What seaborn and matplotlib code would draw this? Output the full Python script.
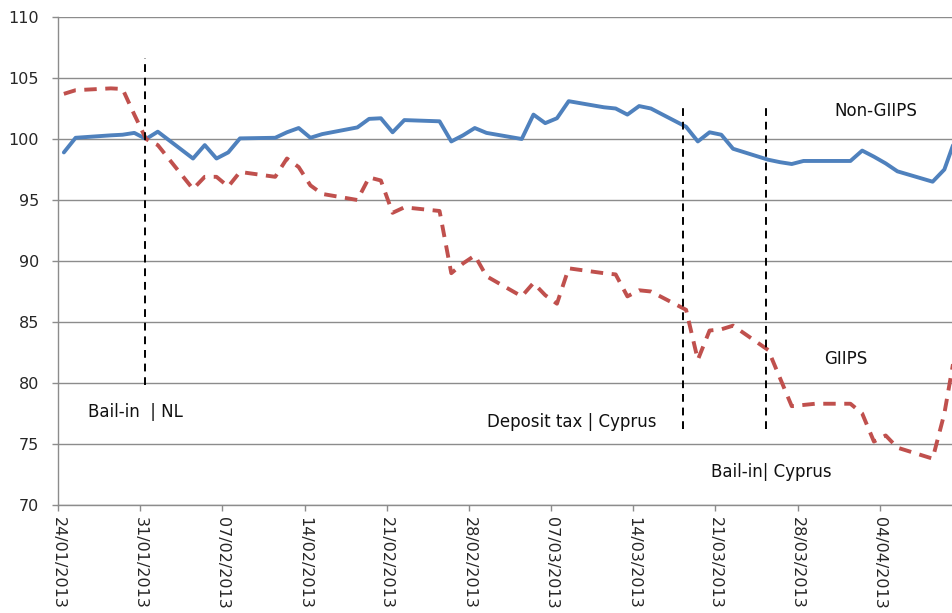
import numpy as np
import pandas as pd
import matplotlib
matplotlib.use("Agg")
import matplotlib.pyplot as plt
import matplotlib.dates as mdates
import seaborn as sns

# weekday trading dates
dates = pd.bdate_range("2013-01-24", "2013-04-10")

non_giips = [
    98.9, 100.1,
    100.3, 100.35, 100.5, 100.0, 100.6,
    98.4, 99.5, 98.4, 98.9, 100.05,
    100.1, 100.55, 100.9, 100.1, 100.4,
    100.95, 101.65, 101.7, 100.55, 101.55,
    101.45, 99.8, 100.3, 100.9, 100.5,
    100.0, 102.0, 101.3, 101.7, 103.1,
    102.6, 102.5, 102.0, 102.7, 102.5,
    101.0, 99.8, 100.55, 100.35, 99.2,
    98.3, 98.1, 97.95, 98.2, 98.2,
    98.2, 99.05, 98.55, 98.0, 97.35,
    96.5, 97.5, 100.2,
]

giips = [
    103.7, 104.0,
    104.15, 104.1, 102.0, 100.0, 99.5,
    95.9, 96.9, 96.9, 96.1, 97.3,
    96.9, 98.4, 97.7, 96.2, 95.5,
    95.0, 96.85, 96.6, 93.95, 94.4,
    94.1, 89.0, 89.8, 90.45, 88.75,
    87.1, 88.2, 87.2, 86.5, 89.4,
    89.0, 88.9, 87.1, 87.6, 87.5,
    86.0, 81.9, 84.3, 84.4, 84.7,
    82.7, 80.4, 78.1, 78.2, 78.3,
    78.3, 77.5, 75.2, 75.7, 74.7,
    73.8, 77.5, 83.0,
]

event_dates = ["2013-01-31 10:00", "2013-03-18 05:00", "2013-03-25 07:00"]
event_spans = [(79.8, 106.6), (76.2, 102.9), (76.2, 102.9)]

labels = ["Non-GIIPS", "GIIPS", "Bail-in  | NL", "Deposit tax | Cyprus", "Bail-in| Cyprus"]
label_pos = [("2013-03-31 04:00", 102.33), ("2013-03-30 06:00", 81.99),
             ("2013-01-26 13:30", 77.64), ("2013-03-01 13:00", 76.8),
             ("2013-03-20 15:00", 72.69)]

df = pd.DataFrame({
    "date": list(dates + pd.Timedelta(hours=12)) * 2,
    "value": non_giips + giips,
    "series": ["Non-GIIPS"] * len(dates) + ["GIIPS"] * len(dates),
})

sns.set_style("white")
plt.rcParams["font.family"] = ["DejaVu Sans"]

fig = plt.figure(figsize=(9.52, 6.13), dpi=100)
ax = fig.add_axes([58 / 952, 1 - 505 / 613, 1 - 58 / 952, (505 - 17) / 613])

sns.lineplot(data=df, x="date", y="value", hue="series", style="series",
             palette={"Non-GIIPS": "#4F81BD", "GIIPS": "#C0504D"},
             dashes={"Non-GIIPS": "", "GIIPS": (3.2, 2.2)},
             linewidth=2.8, legend=False, ax=ax, zorder=3)

for d, (lo, hi) in zip(event_dates, event_spans):
    ax.vlines(pd.Timestamp(d), lo, hi, colors="black", linestyles=(0, (4, 3)),
              linewidth=1.4, zorder=4)

for t, (d, v) in zip(labels, label_pos):
    ax.text(pd.Timestamp(d), v, t, fontsize=12, ha="left", va="center", color="#111111")

start = pd.Timestamp("2013-01-24")
ax.set_xlim(start, start + pd.Timedelta(days=76.15))
ax.set_ylim(70, 110)
ax.set_yticks(np.arange(70, 111, 5))
ax.set_xticks(pd.date_range(start, periods=11, freq="7D"))
ax.xaxis.set_major_formatter(mdates.DateFormatter("%d/%m/%Y"))
plt.setp(ax.get_xticklabels(), rotation=270, ha="center", va="top")
ax.tick_params(axis="x", length=4.5, width=1, color="#8c8c8c", labelsize=11.5, pad=4,
               direction="out", bottom=True)
ax.tick_params(axis="y", length=4.5, width=1, color="#8c8c8c", labelsize=11.5, pad=9,
               direction="out", left=True)
ax.grid(axis="y", color="#8c8c8c", linewidth=1)
ax.set_axisbelow(True)
ax.set_xlabel("")
ax.set_ylabel("")
for s in ["top", "right"]:
    ax.spines[s].set_visible(False)
for s in ["left", "bottom"]:
    ax.spines[s].set_color("#8c8c8c")
    ax.spines[s].set_linewidth(1)

fig.savefig("out.png", dpi=100)
